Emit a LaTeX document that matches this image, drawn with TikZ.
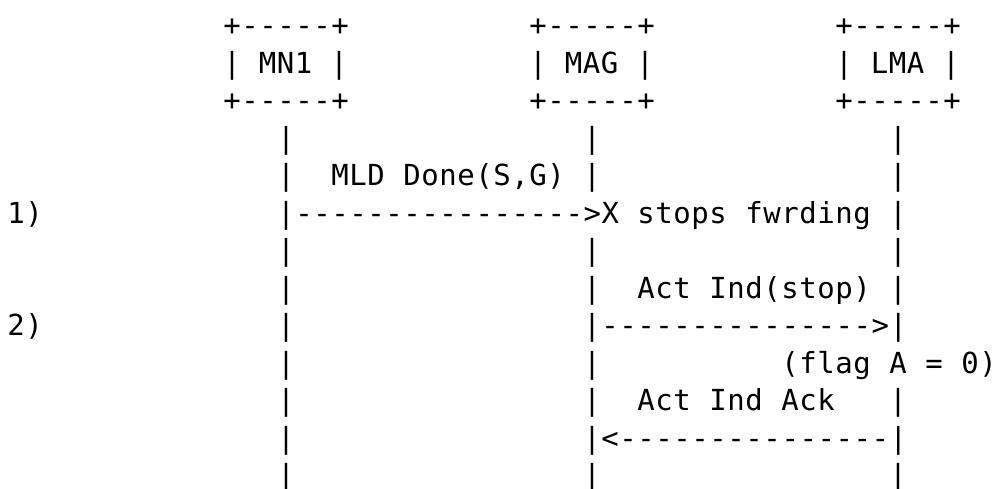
\documentclass[tikz,border=0pt]{standalone}
\usepackage{fontspec}
\setmonofont{DejaVu Sans Mono}[LetterSpace=1.9]
\begin{document}
\begin{tikzpicture}[x=9pt,y=-18.77pt,
    txt/.style={anchor=base west,inner sep=0pt,font=\ttfamily\fontsize{14.5}{14.5}\selectfont}]
        \useasboundingbox (-0.3889,0.0543) rectangle (55,13.054);
        % entity boxes
        \foreach \c/\n in {12/mnone,29/mag,46/lma} {
            \node[txt] (\n-top) at (\c,1) {+-----+};
            \node[txt] (\n-bot) at (\c,3) {+-----+};
        }
        \node[txt] (mnone) at (12,2) {| MN1 |};
        \node[txt] (mag) at (29,2) {| MAG |};
        \node[txt] (lma) at (46,2) {| LMA |};
        % life lines
        \foreach \r in {4,7,13}
            \foreach \c in {15,32,49}
                \node[txt] (p\c-\r) at (\c,\r) {|};
        \foreach \r in {5,8,10,11,12}
            \node[txt] (p15-\r) at (15,\r) {|};
        \foreach \r in {5,8,10,11}
            \node[txt] (p32-\r) at (32,\r) {|};
        \foreach \r in {5,6,8,11}
            \node[txt] (p49-\r) at (49,\r) {|};
        % step 1
        \node[txt] (msgone) at (18,5) {MLD};
        \node[txt] (msgone-b) at (22,5) {Done(S,G)};
        \node[txt] (stepone) at (0,6) {1)};
        \node[txt] (arrone) at (15,6) {|---------------->X};
        \node[txt] (stops) at (35,6) {stops};
        \node[txt] (fwrding) at (41,6) {fwrding};
        % step 2
        \node[txt] (msgtwo) at (35,8) {Act};
        \node[txt] (msgtwo-b) at (39,8) {Ind(stop)};
        \node[txt] (steptwo) at (0,9) {2)};
        \node[txt] (p15-9) at (15,9) {|};
        \node[txt] (arrtwo) at (32,9) {|--------------->|};
        \node[txt] (flag) at (43,10) {(flag};
        \node[txt] (flag-b) at (49,10) {A};
        \node[txt] (flag-c) at (51,10) {=};
        \node[txt] (flag-d) at (53,10) {0)};
        \node[txt] (ack) at (35,11) {Act};
        \node[txt] (ack-b) at (39,11) {Ind};
        \node[txt] (ack-c) at (43,11) {Ack};
        \node[txt] (arrthree) at (32,12) {|<---------------|};
    \end{tikzpicture}
\end{document}
